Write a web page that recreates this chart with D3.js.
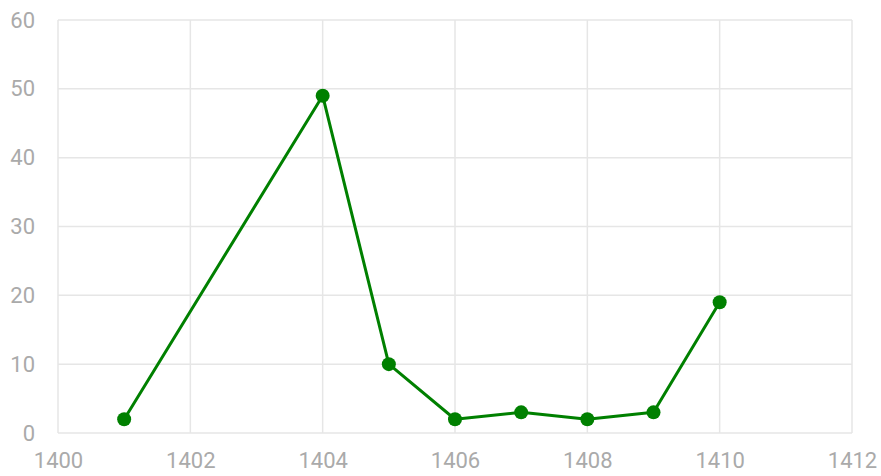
<!DOCTYPE html>
<html>
<head>
<meta charset="utf-8">
<script src="https://cdn.jsdelivr.net/npm/d3@7"></script>
<style>
  body { margin: 0; background: #fff; }
  svg text { font-family: Roboto, "Noto Sans", sans-serif; }
</style>
</head>
<body>
<svg id="chart" width="881" height="476"></svg>
<script>
const years = [1401, 1404, 1405, 1406, 1407, 1408, 1409, 1410]
const values = [2, 49, 10, 2, 3, 2, 3, 19]
const xTicks = [1400, 1402, 1404, 1406, 1408, 1410, 1412]
const yTicks = [0, 10, 20, 30, 40, 50, 60]

const margin = { top: 20, right: 29, bottom: 43, left: 58 }
const width = 881 - margin.left - margin.right
const height = 476 - margin.top - margin.bottom

const svg = d3.select('#chart')
const g = svg.append('g').attr('transform', `translate(${margin.left},${margin.top})`)

const x = d3.scaleLinear().domain([1400, 1412]).range([0, width])
const y = d3.scaleLinear().domain([0, 60]).range([height, 0])

// grid
g.append('g')
  .selectAll('line')
  .data(yTicks)
  .enter()
  .append('line')
  .attr('x1', 0)
  .attr('x2', width)
  .attr('y1', d => y(d))
  .attr('y2', d => y(d))
  .attr('stroke', '#e6e6e6')
  .attr('stroke-width', 1.5)

g.append('g')
  .selectAll('line')
  .data(xTicks)
  .enter()
  .append('line')
  .attr('x1', d => x(d))
  .attr('x2', d => x(d))
  .attr('y1', 0)
  .attr('y2', height)
  .attr('stroke', '#e6e6e6')
  .attr('stroke-width', 1.5)

// axes
const xAxis = g.append('g')
  .attr('transform', `translate(0,${height})`)
  .call(d3.axisBottom(x).tickValues(xTicks).tickFormat(d3.format('d')).tickSize(0).tickPadding(19))
const yAxis = g.append('g')
  .call(d3.axisLeft(y).tickValues(yTicks).tickSize(0).tickPadding(23))

for (const ax of [xAxis, yAxis]) {
  ax.select('.domain').remove()
  ax.selectAll('text')
    .attr('fill', '#aaaaaa')
    .style('font-size', '22px')
}

// line + points
const data = years.map((yr, i) => ({ year: yr, value: values[i] }))

g.append('path')
  .datum(data)
  .attr('fill', 'none')
  .attr('stroke', '#008000')
  .attr('stroke-width', 3)
  .attr('stroke-linejoin', 'round')
  .attr('d', d3.line().x(d => x(d.year)).y(d => y(d.value)))

g.selectAll('.dot')
  .data(data)
  .enter()
  .append('circle')
  .attr('class', 'dot')
  .attr('cx', d => x(d.year))
  .attr('cy', d => y(d.value))
  .attr('r', 7)
  .attr('fill', '#008000')
</script>
</body>
</html>
